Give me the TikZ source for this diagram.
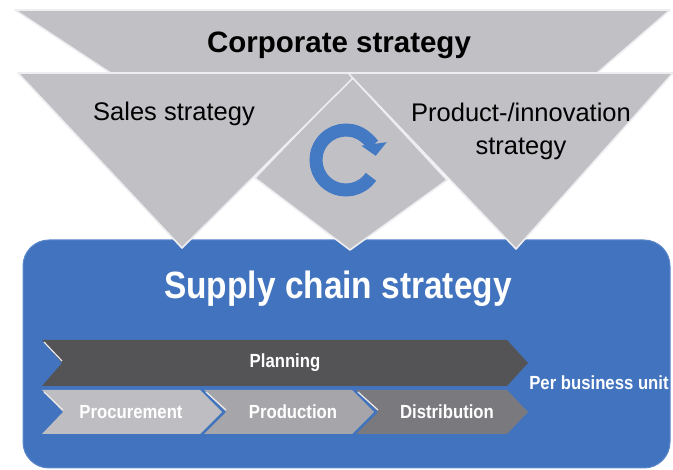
\documentclass[tikz,border=0pt]{standalone}
\usepackage{fontspec}
\setmainfont{Liberation Sans}
\newfontfamily\narrowfont[FakeStretch=0.88]{Liberation Sans}
\definecolor{scblue}{RGB}{66,115,190}
\definecolor{scblueedge}{RGB}{92,135,202}
\definecolor{wedgegray}{RGB}{192,192,197}
\definecolor{wedgeedge}{RGB}{238,238,241}
\definecolor{cycleblue}{RGB}{68,122,196}
\definecolor{plangray}{RGB}{84,84,86}
\definecolor{procgray}{RGB}{190,190,194}
\definecolor{prodgray}{RGB}{166,166,170}
\definecolor{distgray}{RGB}{122,122,126}
\usetikzlibrary{arrows.meta}

\begin{document}
\begin{tikzpicture}[x=1pt,y=-1pt,
  wedge/.style={fill=wedgegray,draw=wedgeedge,line width=1.6pt,line join=round},
  chevlabel/.style={font=\narrowfont\bfseries\fontsize{19}{22}\selectfont,text=white,inner sep=0pt},
  notchlight/.style={draw=white!85!gray,line width=1.2pt}]
  \useasboundingbox (0,0) rectangle (673,470);
  % blue block
  \fill[scblue,draw=scblueedge,line width=1pt,rounded corners=26pt] (23,240) rectangle (670,468);
  % strategy wedges
  \filldraw[wedge] (15,10) -- (670,10) -- (596,74) -- (112,74) -- cycle;
  \filldraw[wedge] (352,77) -- (255,178) -- (350,250) -- (447,180) -- cycle;
  \filldraw[wedge] (18,73) -- (358,73) -- (182,248) -- cycle;
  \filldraw[wedge] (348,73) -- (673,73) -- (516,249) -- cycle;
  \node[font=\bfseries\fontsize{29.5}{32}\selectfont] (corp) at (339,45) {Corporate strategy};
  \node[font=\fontsize{25.5}{28}\selectfont] (sales) at (174,114) {Sales strategy};
  \node[font=\fontsize{25.5}{33}\selectfont,align=center] (innov) at (521,131) {Product-/innovation\\strategy};
  % cycle arrow
  \coordinate (cyc) at (346,160);
  \draw[cycleblue,line width=13pt,-{Triangle[length=12pt,width=25pt]}]
    (cyc) ++(34:30) arc[start angle=34,end angle=352,radius=30];
  \node[font=\narrowfont\bfseries\fontsize{38}{40}\selectfont,text=white] (scs) at (338,289) {Supply chain strategy};
  % process chevrons
  \fill[plangray] (42,340) -- (507,340) -- (528,363) -- (507,386) -- (42,386) -- (62,363) -- cycle;
  \fill[procgray] (42,390) -- (200,390) -- (222,412) -- (200,434) -- (42,434) -- (63,412) -- cycle;
  \fill[prodgray] (204,390) -- (352,390) -- (374,412) -- (352,434) -- (204,434) -- (226,412) -- cycle;
  \fill[distgray] (356,390) -- (507,390) -- (528,412) -- (507,434) -- (356,434) -- (378,412) -- cycle;
  \draw[notchlight] (44,342) -- (62,361);
  \draw[notchlight] (44,392) -- (63,410);
  \draw[notchlight] (206,392) -- (226,410);
  \draw[notchlight] (358,392) -- (378,410);
  \node[chevlabel] (plan) at (285,363) {Planning};
  \node[chevlabel] (proc) at (131,412) {Procurement};
  \node[chevlabel] (prodn) at (293,412) {Production};
  \node[chevlabel] (dist) at (447,412) {Distribution};
  \node[chevlabel] (unit) at (599,383) {Per business unit};
\end{tikzpicture}
\end{document}
